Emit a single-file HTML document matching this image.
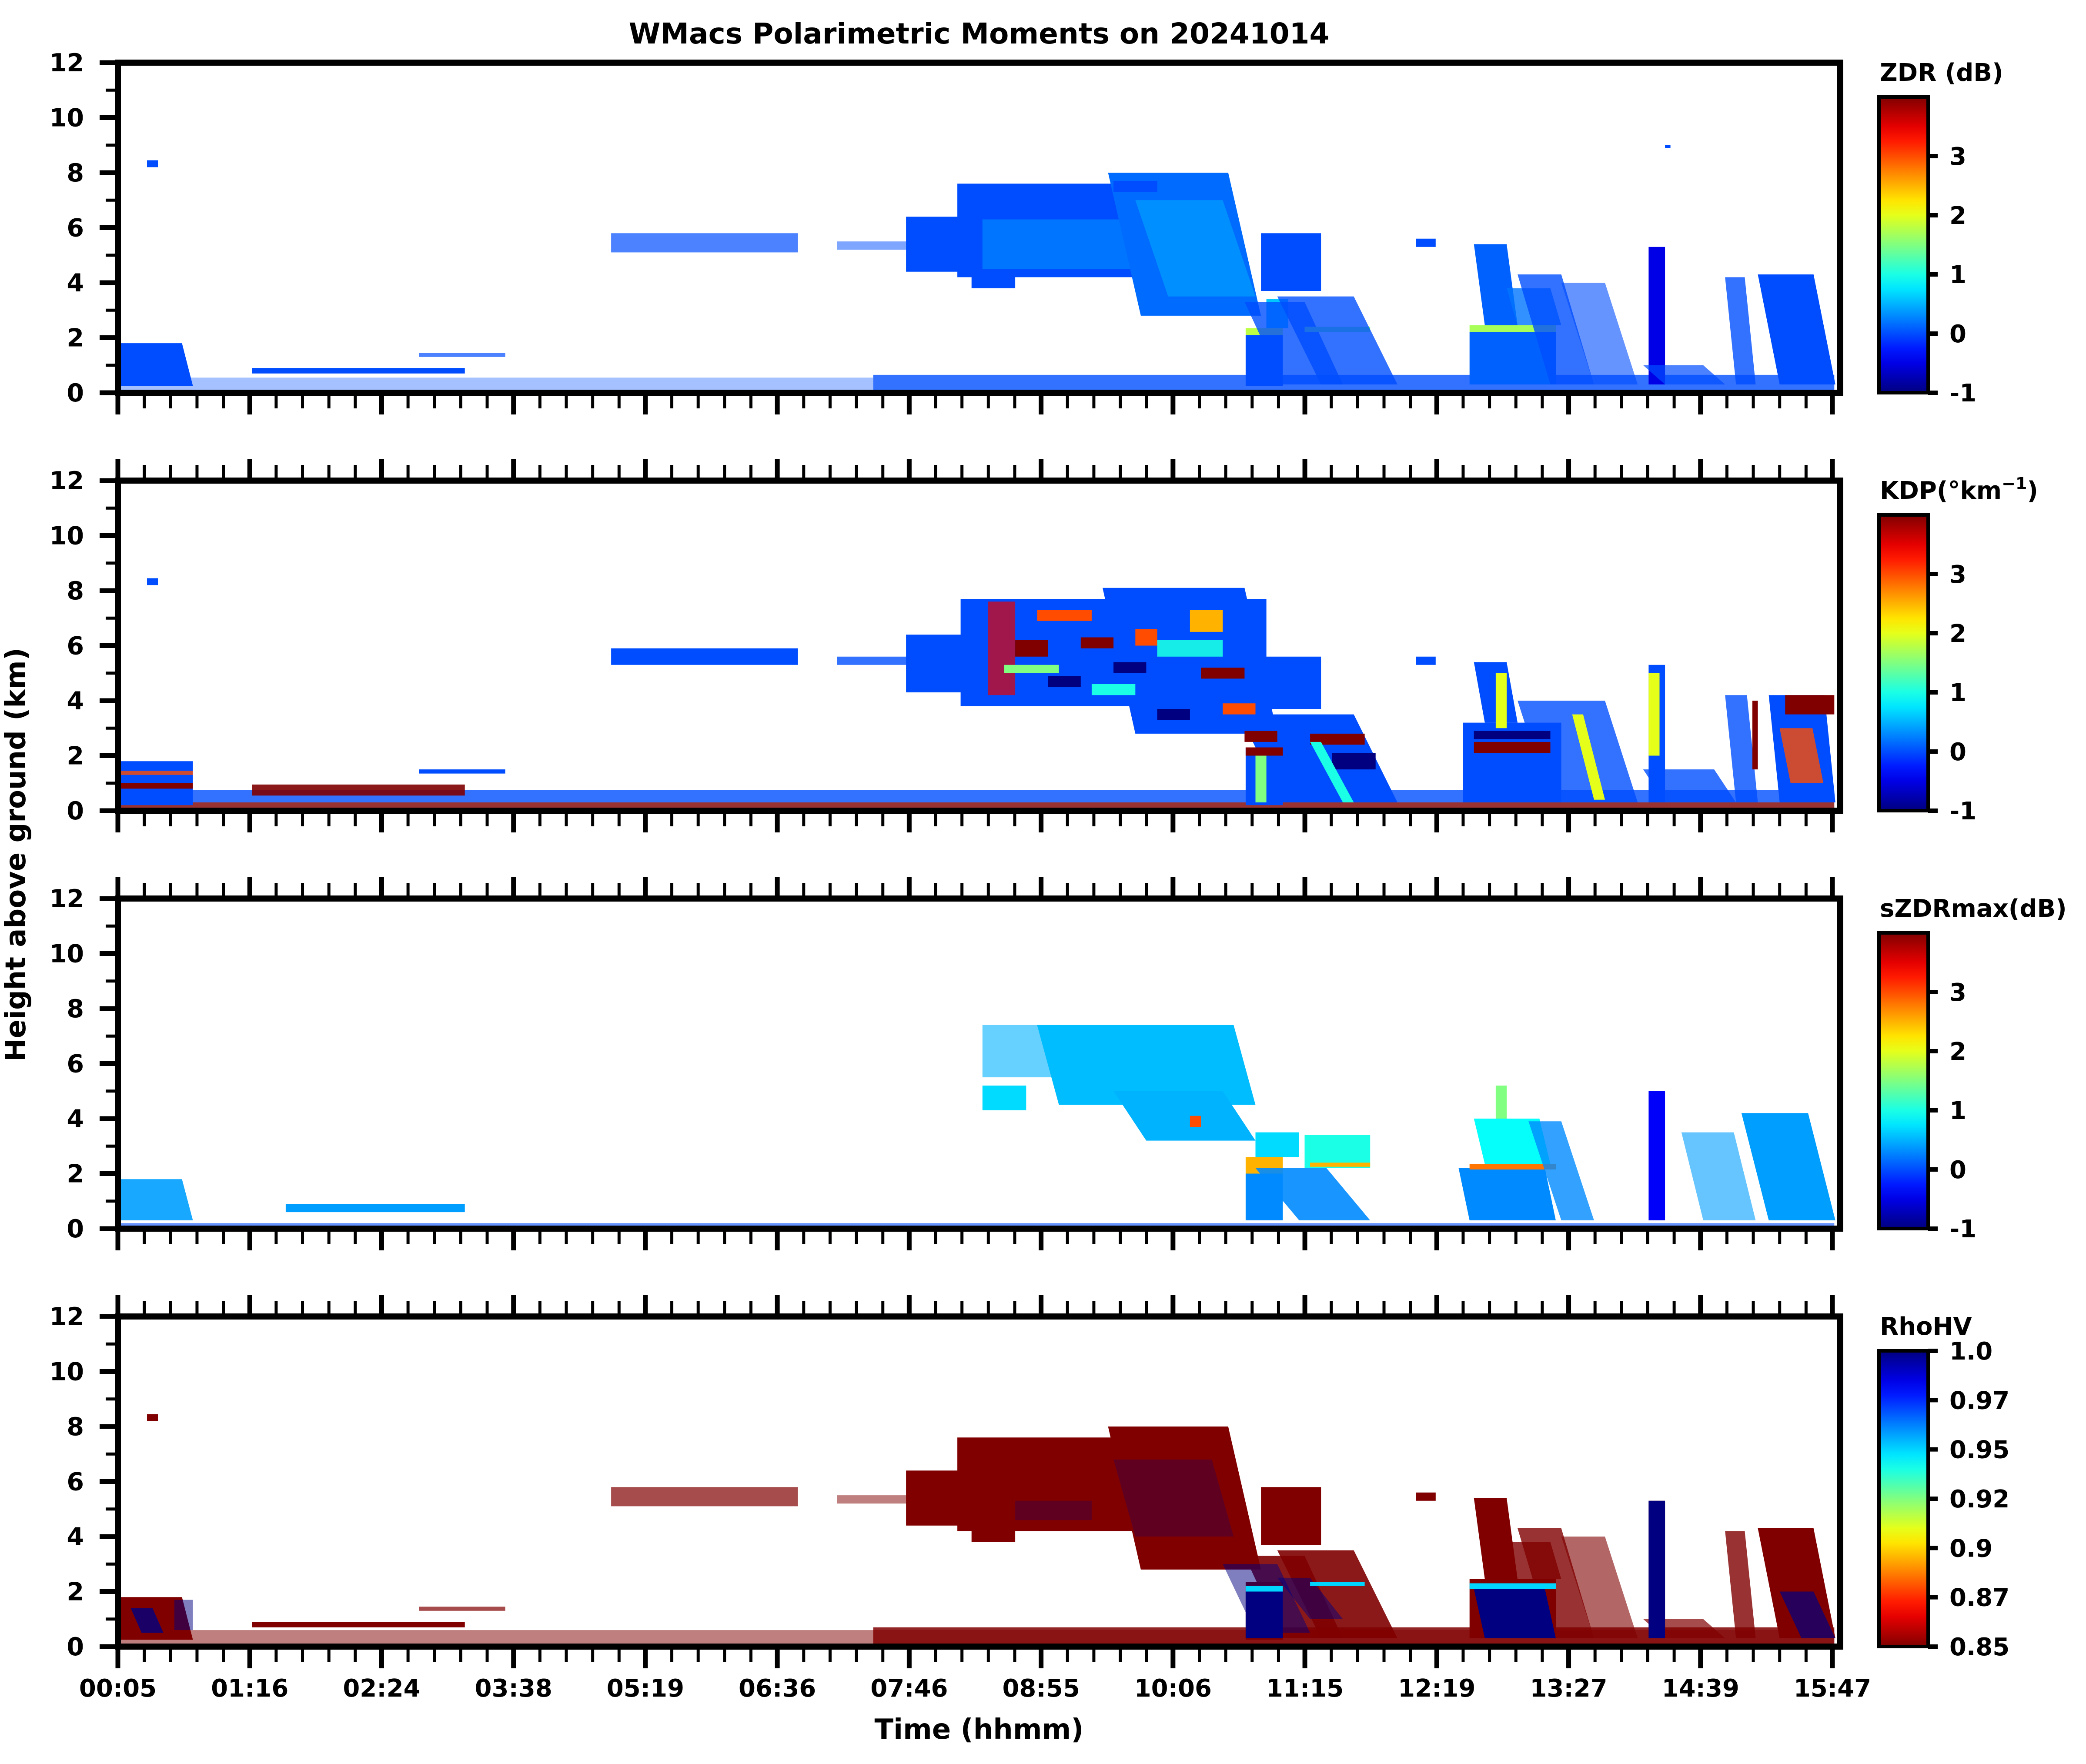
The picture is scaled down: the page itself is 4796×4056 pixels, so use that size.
<!DOCTYPE html>
<html><head><meta charset="utf-8"><title>WMacs Polarimetric Moments</title>
<style>html,body{margin:0;padding:0;background:#fff}svg{display:block}text{font-family:"DejaVu Sans","Liberation Sans",sans-serif;font-weight:bold;fill:#000}</style>
</head><body>
<svg id="fig" width="4796" height="4056" viewBox="0 0 4796 4056" xmlns="http://www.w3.org/2000/svg">
<rect width="4796" height="4056" fill="#fff"/>
<text x="2251" y="100" font-size="66" text-anchor="middle">WMacs Polarimetric Moments on 20241014</text>
<text x="0" y="0" font-size="64" text-anchor="middle" transform="translate(58,1965) rotate(-90)">Height above ground (km)</text>
<text x="2251" y="3998" font-size="64" text-anchor="middle">Time (hhmm)</text>
</svg>
<script>
// ---- data ----
const timeLabels = ["00:05","01:16","02:24","03:38","05:19","06:36","07:46","08:55","10:06","11:15","12:19","13:27","14:39","15:47"];
const heightTicks = [0,2,4,6,8,10,12];
const cbTicksMoment = [-1,0,1,2,3];
const rhoTicks = [0.85,0.87,0.9,0.92,0.95,0.97,1.0];
const rhoTickLabels = ["0.85","0.87","0.9","0.92","0.95","0.97","1.0"];
const panelNames = ["zdr","kdp","szdrmax","rhohv"];
// echo regions: [tStart(h), tEnd(h), baseKm, topKm, value, lean(h), coverFraction]
const zdrEchoes = [
[0.08,7.0,0.1,0.55,0,0,0.35],[7.0,15.8,0.1,0.65,0,0,0.8],
[0.08,0.77,0.25,1.8,0,0.1,1],[0.35,0.45,8.2,8.45,0,0,1],[1.31,3.26,0.7,0.9,0,0,1],[2.84,3.63,1.3,1.45,0,0,0.7],
[4.6,6.31,5.1,5.8,0,0,0.7],[6.67,7.4,5.2,5.5,0,0,0.5],[7.3,7.8,4.4,6.4,0,0,1],[7.77,9.5,4.2,7.6,0,0,1],
[8.0,9.4,4.5,6.3,0.25,0,0.8],[9.45,10.55,2.8,8.0,0.15,0.3,1],[9.7,10.5,3.5,7.0,0.4,0.3,0.7],[10.55,11.1,3.7,5.8,0,0,1],
[7.9,8.3,3.8,4.4,0,0,1],[9.2,9.6,7.3,7.7,0,0,1],
[10.41,10.75,0.25,2.1,0,0,1],[10.41,10.75,2.1,2.35,1.8,0,1],[10.6,10.8,2.35,3.4,0.6,0,1],[10.75,11.3,0.3,3.3,0,0.35,0.8],
[10.95,11.55,2.2,2.4,1.5,0,1],[11.1,11.8,0.3,3.5,0,0.4,0.8],[11.97,12.15,5.3,5.6,0,0,1],[12.46,13.25,0.3,2.2,0.1,0,1],
[12.46,13.25,2.2,2.45,1.7,0,1],[12.6,12.9,2.45,5.4,0.1,0.1,1],[12.9,13.3,2.45,3.8,0.2,0.1,0.8],[13.2,13.6,0.3,4.3,0,0.3,0.8],
[13.6,14.0,0.3,4.0,0,0.3,0.6],[14.1,14.25,0.3,5.3,-0.5,0,1],[14.25,14.8,0.3,1.0,0,0.2,0.7],[14.9,15.08,0.3,4.2,0,0.1,0.8],
[15.3,15.81,0.3,4.3,0,0.2,1],[14.25,14.3,8.9,9.0,0,0,1]];
const kdpEchoes = [
[0.08,15.8,0.3,0.75,0,0,0.8],[0.08,15.8,0.0,0.3,4,0,0.8],
[0.08,0.77,0.2,1.8,0,0,1],[0.08,0.77,0.8,1.0,4,0,1],[0.08,0.77,1.3,1.45,3,0,0.8],[1.31,3.26,0.55,0.95,4,0,0.9],[2.84,3.63,1.35,1.5,0,0,1],
[0.35,0.45,8.2,8.45,0,0,1],[4.6,6.31,5.3,5.9,0,0,1],[6.67,7.4,5.3,5.6,0,0,0.8],[7.3,7.9,4.3,6.4,0,0,1],[7.8,10.6,3.8,7.7,0,0,1],
[9.4,10.7,2.8,8.1,0,0.3,1],[10.4,11.1,3.7,5.6,0,0,1],[10.41,10.75,0.2,2.3,0,0,1],[10.75,11.8,0.3,3.5,0,0.4,1],[11.97,12.15,5.3,5.6,0,0,1],
[12.4,13.3,0.3,3.2,0,0,1],[12.6,12.9,3.2,5.4,0,0.1,1],[13.2,14.0,0.3,4.0,0,0.3,0.8],[14.1,14.25,0.3,5.3,0,0,1],[14.25,14.9,0.3,1.5,0,0.2,0.8],
[14.9,15.1,0.3,4.2,0,0.1,0.8],[15.3,15.81,0.3,4.2,0,0.1,1],
[8.05,8.3,4.2,7.6,3.5,0,0.7],[8.3,8.6,5.6,6.2,4,0,1],[8.6,8.9,4.5,4.9,-1,0,1],[8.9,9.2,5.9,6.3,4,0,1],[9.2,9.5,5.0,5.4,-1,0,1],
[9.4,9.6,6.0,6.6,3,0,1],[9.6,9.9,3.3,3.7,-1,0,1],[9.9,10.2,6.5,7.3,2.5,0,1],[10.0,10.4,4.8,5.2,4,0,1],[10.2,10.5,3.5,3.9,3,0,1],
[8.5,9.0,6.9,7.3,3,0,1],[9.0,9.4,4.2,4.6,1,0,1],[9.6,10.2,5.6,6.2,1,0,0.9],[8.2,8.7,5.0,5.3,1.5,0,1],[10.4,10.7,2.5,2.9,4,0,1],
[10.41,10.75,2.0,2.3,4,0,1],[11.0,11.5,2.4,2.8,4,0,1],[11.2,11.6,1.5,2.1,-1,0,1],[12.5,13.2,2.1,2.5,4,0,1],[12.5,13.2,2.6,2.9,-1,0,1],
[12.7,12.8,3.0,5.0,2,0,1],[14.1,14.2,2.0,5.0,2,0,1],[15.35,15.8,3.5,4.2,4,0,1],[15.4,15.7,1.0,3.0,3,0.1,0.8],[15.05,15.1,1.5,4.0,4,0,1],
[13.6,13.7,0.4,3.5,2,0.2,1],[11.3,11.4,0.3,2.5,1,0.3,1],[10.5,10.6,0.3,2.0,1.5,0,1]];
const szdrEchoes = [
[0.08,15.8,0.05,0.2,0,0,0.6],
[0.08,0.77,0.3,1.8,0.4,0.1,0.9],[1.62,3.26,0.6,0.9,0.4,0,1],[8.0,8.7,5.5,7.4,0.5,0,0.6],[8.0,8.4,4.3,5.2,0.7,0,1],
[8.7,10.5,4.5,7.4,0.55,0.2,1],[9.5,10.5,3.2,5.0,0.5,0.3,1],[9.9,10.0,3.7,4.1,3,0,1],[10.41,10.75,0.3,2.0,0.3,0,1],
[10.41,10.75,2.0,2.6,2.5,0,1],[10.5,10.9,2.6,3.5,0.7,0,1],[10.9,11.55,0.3,2.2,0.3,0.4,0.9],[10.95,11.55,2.2,3.4,1.0,0,1],
[11.0,11.55,2.25,2.4,2.5,0,1],[12.46,13.25,0.3,2.2,0.3,0.1,1],[12.46,13.25,2.15,2.35,2.8,0,1],[12.6,13.2,2.35,4.0,0.9,0.1,1],
[12.7,12.8,4.0,5.2,1.5,0,1],[13.3,13.6,0.3,3.9,0.3,0.3,0.8],[14.1,14.25,0.3,5.0,-0.4,0,1],[14.6,15.08,0.3,3.5,0.4,0.2,0.6],
[15.2,15.81,0.3,4.2,0.4,0.25,1]];
const rhoEchoes = [
[0.08,15.8,0.05,0.6,0.85,0,0.5],[7.0,15.8,0.05,0.7,0.85,0,0.85],
[0.08,0.77,0.25,1.8,0.85,0.1,1],[0.3,0.5,0.5,1.4,1.0,0.1,0.8],[0.6,0.77,0.6,1.7,1.0,0,0.5],[0.35,0.45,8.2,8.45,0.85,0,1],
[1.31,3.26,0.7,0.9,0.85,0,1],[2.84,3.63,1.3,1.45,0.85,0,0.7],[4.6,6.31,5.1,5.8,0.85,0,0.7],[6.67,7.4,5.2,5.5,0.85,0,0.5],
[7.3,7.8,4.4,6.4,0.85,0,1],[7.77,9.5,4.2,7.6,0.85,0,1],[9.45,10.55,2.8,8.0,0.85,0.3,1],[10.55,11.1,3.7,5.8,0.85,0,1],
[7.9,8.3,3.8,4.4,0.85,0,1],[9.2,9.6,7.3,7.7,0.85,0,1],
[10.41,10.75,0.25,2.35,0.85,0,1],[10.75,11.3,0.3,3.3,0.85,0.35,0.9],[11.1,11.8,0.3,3.5,0.85,0.4,0.9],[11.97,12.15,5.3,5.6,0.85,0,1],
[12.46,13.25,0.3,2.45,0.85,0,1],[12.6,12.9,2.45,5.4,0.85,0.1,1],[12.9,13.3,2.45,3.8,0.85,0.1,0.8],[13.2,13.6,0.3,4.3,0.85,0.3,0.8],
[13.6,14.0,0.3,4.0,0.85,0.3,0.6],[14.1,14.25,0.3,5.3,0.85,0,1],[14.25,14.8,0.3,1.0,0.85,0.2,0.7],[14.9,15.08,0.3,4.2,0.85,0.1,0.8],
[15.3,15.81,0.3,4.3,0.85,0.2,1],
[8.3,9.0,4.6,5.3,1.0,0,0.25],[9.4,10.3,4.0,6.8,1.0,0.2,0.25],[10.5,11.0,0.5,3.0,1.0,0.3,0.5],[11.0,11.3,1.0,2.5,1.0,0.3,0.5],
[10.41,10.75,0.3,2.0,1.0,0,1],[10.41,10.75,2.0,2.2,0.95,0,1],[11.0,11.5,2.2,2.35,0.95,0,1],[12.6,13.25,0.3,2.1,1.0,0.1,1],
[12.46,13.25,2.1,2.3,0.95,0,1],[14.1,14.25,0.3,5.3,1.0,0,1],[15.5,15.81,0.3,2.0,1.0,0.2,0.7]];
const cbTitles = ["ZDR (dB)","KDP(°km","sZDRmax(dB)","RhoHV"];

// ---- layout ----
const NS="http://www.w3.org/2000/svg";
const svg=document.getElementById('fig');
const X0=271,X1=4231,XT0=271,XT1=4213,T0=0.083,T1=15.783;
const PT=[144,1105,2066,3027],PH=759;
const CBX=4320,CBW=113;
function el(tag,attrs,parent){const e=document.createElementNS(NS,tag);for(const k in attrs)e.setAttribute(k,attrs[k]);(parent||svg).appendChild(e);return e;}
function xScale(t){return XT0+(t-T0)/(T1-T0)*(XT1-XT0);}
function yScale(p,h){return PT[p]+(12-h)/12*PH;}
function clamp(v){return Math.max(0,Math.min(1,v));}
function jet(f){const r=clamp(1.5-Math.abs(4*f-3)),g=clamp(1.5-Math.abs(4*f-2)),b=clamp(1.5-Math.abs(4*f-1));return `rgb(${Math.round(r*255)},${Math.round(g*255)},${Math.round(b*255)})`;}
function momentColor(v){return jet(clamp((v+1)/5));}
function rhoFrac(v){for(let i=0;i<rhoTicks.length-1;i++){if(v<=rhoTicks[i+1]){return (i+(v-rhoTicks[i])/(rhoTicks[i+1]-rhoTicks[i]))/(rhoTicks.length-1);}}return 1;}
function rhoColor(v){return jet(1-clamp(rhoFrac(v)));}
const defs=el('defs',{});
const sets=[zdrEchoes,kdpEchoes,szdrEchoes,rhoEchoes];

for(let p=0;p<4;p++){
  const g=el('g',{});
  
  
  const cp=el('clipPath',{id:'clip'+p},defs);
  el('rect',{x:X0,y:PT[p],width:X1-X0,height:PH},cp);
  const data=el('g',{'clip-path':`url(#clip${p})`},g);
  
  
  sets[p].forEach(r=>{
    const [t0,t1,h0,h1,v,lean,cov]=r;
    const col=p===3?rhoColor(v):momentColor(v);
    const pts=[[xScale(t0-lean),yScale(p,h1)],[xScale(t1-lean),yScale(p,h1)],[xScale(t1),yScale(p,h0)],[xScale(t0),yScale(p,h0)]].map(a=>a[0].toFixed(1)+','+a[1].toFixed(1)).join(' ');
    const poly=el('polygon',{points:pts,fill:col,'fill-opacity':cov},data);
    
    
  });
  const fr=el('rect',{x:X0,y:PT[p],width:X1-X0,height:PH,fill:'none',stroke:'#000','stroke-width':14},g);
  
  
  for(let h=0;h<=12;h++){
    const y=yScale(p,h),major=h%2===0;
    el('line',{x1:X0-7-(major?35:21),x2:X0,y1:y,y2:y,stroke:'#000','stroke-width':major?11:7},g);
  }
  heightTicks.forEach(h=>{
    const t=el('text',{x:193,y:yScale(p,h)+20,'font-size':57,'text-anchor':'end'},g);
    t.textContent=h;
    
    
  });
  const n=timeLabels.length-1,step=(XT1-XT0)/n;
  for(let i=0;i<=n*5;i++){
    const x=XT0+i*step/5,major=i%5===0,len=major?43:29;
    const yb=PT[p]+PH+7;
    el('line',{x1:x,x2:x,y1:yb-7,y2:yb+len,stroke:'#000','stroke-width':major?11:7},g);
    if(p>0){const yt=PT[p]-7;el('line',{x1:x,x2:x,y1:yt+7,y2:yt-len,stroke:'#000','stroke-width':major?11:7},g);}
  }
  if(p===3){
    timeLabels.forEach((lab,i)=>{
      const t=el('text',{x:XT0+i*step,y:3901,'font-size':56,'text-anchor':'middle'},g);
      t.textContent=lab;
      
      
    });
  }
  const cbTop=PT[p]+79,cbBot=PT[p]+PH;
  const grad=el('linearGradient',{id:'cbg'+p,x1:0,y1:1,x2:0,y2:0},defs);
  for(let k=0;k<=20;k++){const f=k/20;el('stop',{offset:f,'stop-color':p===3?jet(1-f):momentColor(-1+5*f)},grad);}
  const cb=el('rect',{x:CBX,y:cbTop,width:CBW,height:cbBot-cbTop,fill:`url(#cbg${p})`,stroke:'#000','stroke-width':8},g);
  
  
  const tt=el('text',{x:4322,y:PT[p]+42,'font-size':56},g);
  tt.textContent=cbTitles[p];
  if(p===1){const s=el('tspan',{'font-size':38,dy:-22},tt);s.textContent='−1';const c=el('tspan',{'font-size':56,dy:22},tt);c.textContent=')';}
  
  
  const ticks=p===3?rhoTicks.map((v,i)=>[cbBot-i/(rhoTicks.length-1)*(cbBot-cbTop),rhoTickLabels[i]]):cbTicksMoment.map(v=>[cbBot-(v+1)/5*(cbBot-cbTop),String(v)]);
  ticks.forEach(([y,lab])=>{
    el('line',{x1:CBX+CBW,x2:CBX+CBW+22,y1:y,y2:y,stroke:'#000','stroke-width':10},g);
    const t=el('text',{x:4482,y:y+20,'font-size':56},g);
    t.textContent=lab;
    
    
  });
}
</script>
</body></html>
